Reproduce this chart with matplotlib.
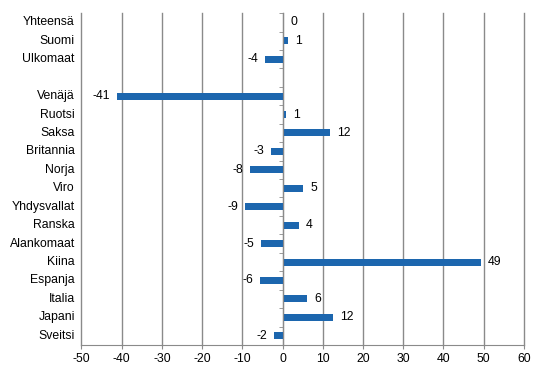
import numpy as np
import matplotlib
matplotlib.use("Agg")
import matplotlib.pyplot as plt

plt.rcParams['font.family'] = ['Liberation Sans', 'DejaVu Sans']

# categories top to bottom ("" is the blank gap row)
cats = ["Yhteensä", "Suomi", "Ulkomaat", "", "Venäjä", "Ruotsi", "Saksa", "Britannia",
        "Norja", "Viro", "Yhdysvallat", "Ranska", "Alankomaat", "Kiina", "Espanja",
        "Italia", "Japani", "Sveitsi"]
vals = [0.3, 1.4, -4.3, np.nan, -41.2, 0.9, 11.8, -2.9,
        -8.1, 5.1, -9.3, 4.1, -5.3, 49.4, -5.5, 6.1, 12.5, -2.1]
shown = ["0", "1", "-4", "", "-41", "1", "12", "-3",
         "-8", "5", "-9", "4", "-5", "49", "-6", "6", "12", "-2"]
xticks = list(range(-50, 61, 10))

BLUE = "#1c66ae"
GREY = "#8a8a8a"
FS = 8.8

fig = plt.figure(figsize=(5.44, 3.74), dpi=100)
ax = fig.add_axes([0.1498, 0.0775, 0.963 - 0.1498, 0.965 - 0.0775])

y = np.arange(len(cats))
ax.barh(y, vals, height=0.38, color=BLUE, zorder=3)

ax.set_xlim(-50, 60)
ax.set_ylim(len(cats) - 0.5, -0.5)
ax.set_xticks(xticks)
ax.set_xticklabels([str(t) for t in xticks], fontsize=FS)
ax.xaxis.grid(True, color=GREY, lw=1, zorder=0)
for gl in ax.xaxis.get_gridlines():
    gl.set_clip_on(False)
ax.tick_params(axis="x", length=3, color=GREY, pad=3)

for s in ["top", "right"]:
    ax.spines[s].set_visible(False)
ax.spines["bottom"].set_color(GREY)
ax.spines["left"].set_position(("data", 0))
ax.spines["left"].set_color(GREY)
ax.spines["left"].set_zorder(4)

ax.set_yticks([])
ax.set_yticks(np.arange(-0.5, len(cats), 1.0), minor=True)
ax.tick_params(axis="y", which="minor", length=3, color=GREY, direction="out")

for yi, name in zip(y, cats):
    ax.text(-0.015, yi, name, transform=ax.get_yaxis_transform(),
            ha="right", va="center", fontsize=FS)

for yi, v, lab in zip(y, vals, shown):
    if np.isnan(v):
        continue
    if v >= 0:
        ax.annotate(lab, (v, yi), xytext=(5, 0), textcoords="offset points",
                    ha="left", va="center", fontsize=FS)
    else:
        ax.annotate(lab, (v, yi), xytext=(-5, 0), textcoords="offset points",
                    ha="right", va="center", fontsize=FS)

fig.savefig("out.png", dpi=100)
